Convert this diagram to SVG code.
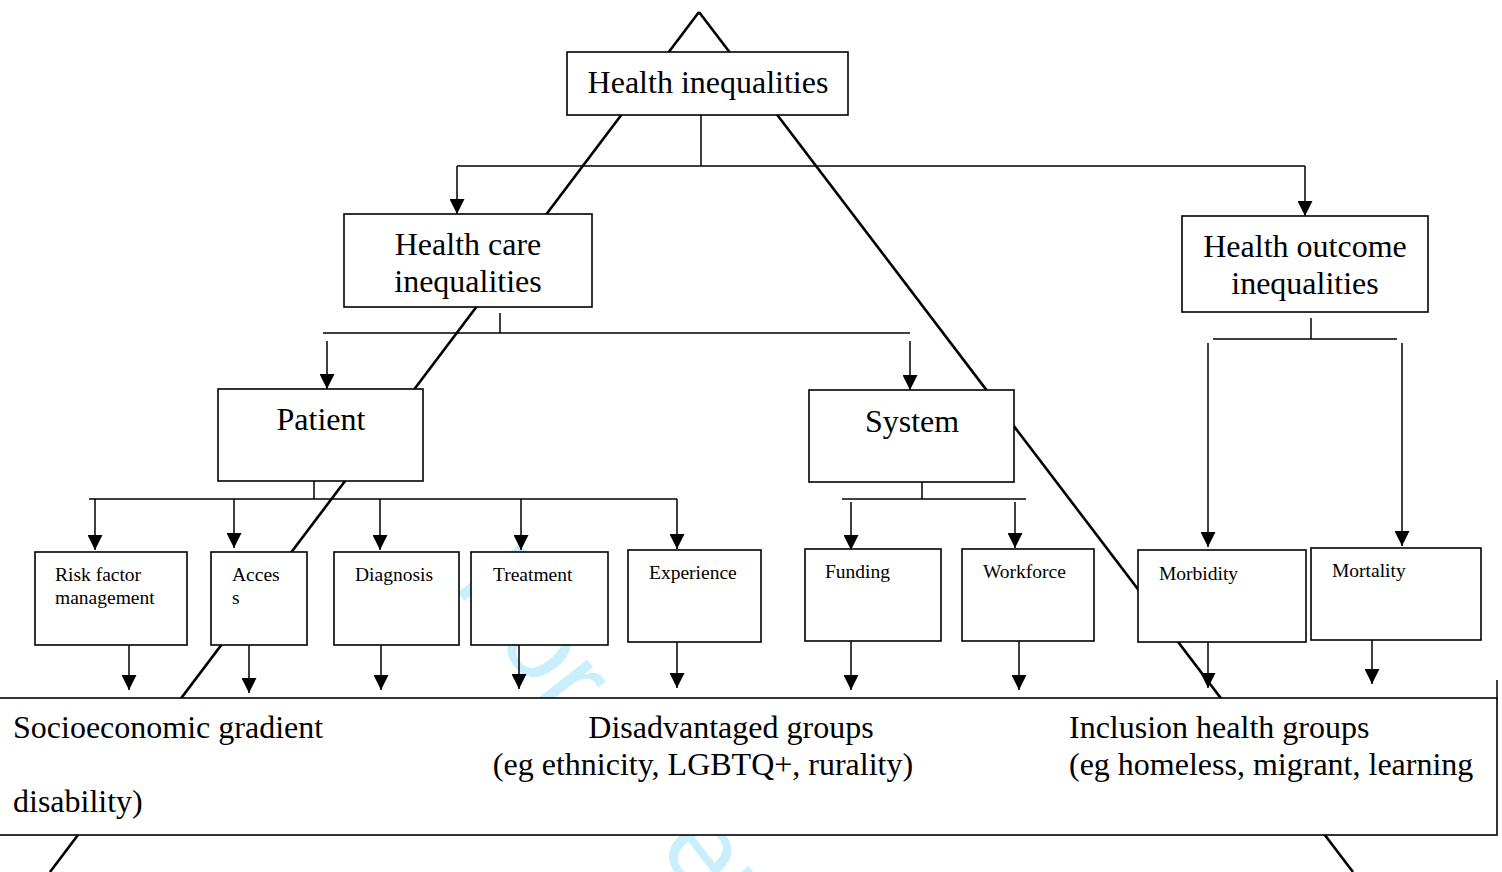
<svg xmlns="http://www.w3.org/2000/svg" width="1502" height="872" viewBox="0 0 1502 872">
<style>
.box{fill:#fff;stroke:#000;stroke-width:1.6}
.tri{stroke:#000;stroke-width:2.6;fill:none}
.conn{stroke:#000;stroke-width:1.5;fill:none}
.arr{stroke:#000;stroke-width:1.5;fill:none;marker-end:url(#ah)}
text{font-family:"Liberation Serif","Times New Roman",serif;fill:#000}
.big{font-size:32px}
.sm{font-size:19.5px}
.mid{text-anchor:middle}
.wm{font-family:"Liberation Sans",Arial,sans-serif;font-size:115px;fill:#c9eefc}
</style>
<defs>
<marker id="ah" markerUnits="userSpaceOnUse" markerWidth="15" markerHeight="15" refX="15" refY="7.5" orient="auto">
<path d="M0,0 L15,7.5 L0,15 z" fill="#000"/>
</marker>
</defs>
<rect x="0" y="0" width="1502" height="872" fill="#fff"/>
<text class="wm" transform="translate(452,585) rotate(52)">For peer review only</text>
<g id="triangle">
<line class="tri" x1="699" y1="12" x2="50" y2="872"/>
<line class="tri" x1="699" y1="12" x2="1353" y2="872"/>
</g>
<g id="connectors">
<line class="conn" x1="701" y1="115" x2="701" y2="166"/>
<line class="conn" x1="457" y1="166" x2="1305" y2="166"/>
<line class="arr" x1="457" y1="166" x2="457" y2="214"/>
<line class="arr" x1="1305" y1="166" x2="1305" y2="216"/>
<line class="conn" x1="500" y1="313" x2="500" y2="333"/>
<line class="conn" x1="323" y1="333" x2="910" y2="333"/>
<line class="arr" x1="327" y1="341" x2="327" y2="389"/>
<line class="arr" x1="910" y1="341" x2="910" y2="390"/>
<line class="conn" x1="1311" y1="318" x2="1311" y2="339"/>
<line class="conn" x1="1213" y1="339" x2="1397" y2="339"/>
<line class="arr" x1="1208" y1="343" x2="1208" y2="547"/>
<line class="arr" x1="1402" y1="343" x2="1402" y2="546"/>
<line class="conn" x1="314" y1="480" x2="314" y2="499"/>
<line class="conn" x1="89" y1="499" x2="677" y2="499"/>
<line class="arr" x1="95" y1="499" x2="95" y2="550"/>
<line class="arr" x1="234" y1="499" x2="234" y2="548"/>
<line class="arr" x1="380" y1="499" x2="380" y2="550"/>
<line class="arr" x1="521" y1="499" x2="521" y2="550"/>
<line class="arr" x1="677" y1="499" x2="677" y2="549"/>
<line class="conn" x1="922" y1="479" x2="922" y2="499"/>
<line class="conn" x1="842" y1="499" x2="1026" y2="499"/>
<line class="arr" x1="851" y1="502" x2="851" y2="550"/>
<line class="arr" x1="1015" y1="502" x2="1015" y2="548"/>
<line class="arr" x1="129" y1="640" x2="129" y2="690"/>
<line class="arr" x1="249" y1="645" x2="249" y2="693"/>
<line class="arr" x1="381" y1="640" x2="381" y2="690"/>
<line class="arr" x1="519" y1="640" x2="519" y2="689"/>
<line class="arr" x1="677" y1="638" x2="677" y2="688"/>
<line class="arr" x1="851" y1="641" x2="851" y2="690"/>
<line class="arr" x1="1019" y1="641" x2="1019" y2="690"/>
<line class="arr" x1="1208" y1="638" x2="1208" y2="688"/>
<line class="arr" x1="1372" y1="636" x2="1372" y2="684"/>
<line class="conn" x1="1497" y1="680" x2="1497" y2="700"/>
</g>
<g id="health-inequalities">
<rect class="box" x="567" y="52" width="281" height="63"/>
<text class="big mid" x="708" y="93">Health inequalities</text>
</g>
<g id="health-care-inequalities">
<rect class="box" x="344" y="214" width="248" height="93"/>
<text class="big mid" x="468" y="255">Health care</text>
<text class="big mid" x="468" y="292">inequalities</text>
</g>
<g id="health-outcome-inequalities">
<rect class="box" x="1182" y="216" width="246" height="96"/>
<text class="big mid" x="1305" y="257">Health outcome</text>
<text class="big mid" x="1305" y="294">inequalities</text>
</g>
<g id="patient">
<rect class="box" x="218" y="389" width="205" height="92"/>
<text class="big mid" x="321" y="430">Patient</text>
</g>
<g id="system">
<rect class="box" x="809" y="390" width="205" height="92"/>
<text class="big mid" x="912" y="432">System</text>
</g>
<g id="risk-factor">
<rect class="box" x="35" y="552" width="152" height="93"/>
<text class="sm" x="55" y="581">Risk factor</text>
<text class="sm" x="55" y="604">management</text>
</g>
<g id="access">
<rect class="box" x="211" y="552" width="96" height="93"/>
<text class="sm" x="232" y="581">Acces</text>
<text class="sm" x="232" y="604">s</text>
</g>
<g id="diagnosis">
<rect class="box" x="334" y="552" width="125" height="93"/>
<text class="sm" x="355" y="581">Diagnosis</text>
</g>
<g id="treatment">
<rect class="box" x="471" y="552" width="137" height="93"/>
<text class="sm" x="493" y="581">Treatment</text>
</g>
<g id="experience">
<rect class="box" x="628" y="550" width="133" height="92"/>
<text class="sm" x="649" y="579">Experience</text>
</g>
<g id="funding">
<rect class="box" x="805" y="549" width="136" height="92"/>
<text class="sm" x="825" y="578">Funding</text>
</g>
<g id="workforce">
<rect class="box" x="962" y="549" width="132" height="92"/>
<text class="sm" x="983" y="578">Workforce</text>
</g>
<g id="morbidity">
<rect class="box" x="1138" y="550" width="168" height="92"/>
<text class="sm" x="1159" y="580">Morbidity</text>
</g>
<g id="mortality">
<rect class="box" x="1311" y="548" width="170" height="92"/>
<text class="sm" x="1332" y="577">Mortality</text>
</g>
<g id="groups">
<rect class="box" x="-2" y="698" width="1499" height="137"/>
<text class="big" x="13" y="738">Socioeconomic gradient</text>
<text class="big" x="13" y="812">disability)</text>
<text class="big mid" x="731" y="738">Disadvantaged groups</text>
<text class="big mid" x="703" y="775">(eg ethnicity, LGBTQ+, rurality)</text>
<text class="big" x="1069" y="738">Inclusion health groups</text>
<text class="big" x="1069" y="775">(eg homeless, migrant, learning</text>
</g>
</svg>
